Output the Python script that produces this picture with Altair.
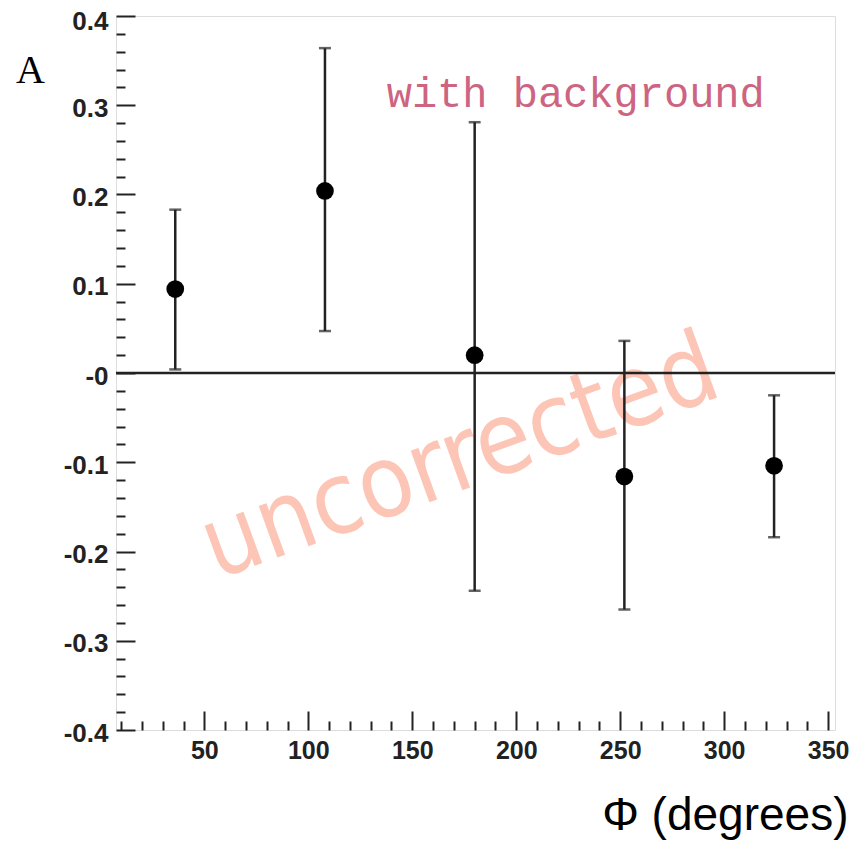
import altair as alt
import pandas as pd

# bin centres (degrees), asymmetry A and error-bar ends
phi = [36, 108, 180, 252, 324]
asym = [0.094, 0.204, 0.020, -0.116, -0.104]
err_lo = [0.004, 0.047, -0.244, -0.265, -0.184]
err_hi = [0.183, 0.364, 0.281, 0.036, -0.025]

x_major = [50, 100, 150, 200, 250, 300, 350]
x_minor = [v for v in range(10, 351, 10) if v not in x_major]
y_major = [-0.4, -0.3, -0.2, -0.1, 0.0, 0.1, 0.2, 0.3, 0.4]
y_minor = [round(-0.4 + 0.02 * i, 2) for i in range(41) if i % 5]

W, H = 719, 714
ink = "#222222"

source = pd.DataFrame({"phi": phi, "A": asym, "lo": err_lo, "hi": err_hi})
base = alt.Chart(source)

x_scale = alt.Scale(domain=[7.5, 353.3], nice=False, zero=False)
y_scale = alt.Scale(domain=[-0.4, 0.4], nice=False, zero=False)

y_label = ("datum.value == 0 ? '-0' : (datum.value < 0 ? '-' + format(-datum.value, '.1f')"
           " : format(datum.value, '.1f'))")
y_label_style = dict(labelFont="Liberation Sans", labelFontSize=26, labelFontWeight="bold",
                     labelColor=ink, labelPadding=8, labelOverlap=False, labelExpr=y_label,
                     ticks=False, domain=False, grid=False)

# points carry the labelled axes (no ticks, the ticks are drawn inward below)
points = base.mark_circle(size=314, color="black", opacity=1).encode(
    x=alt.X("phi:Q", scale=x_scale, axis=alt.Axis(
        orient="bottom", values=x_major, ticks=False, domain=False, grid=False,
        labelFont="Liberation Sans", labelFontSize=25, labelFontWeight="bold",
        labelColor=ink, labelPadding=8, labelFlush=False, labelOverlap=False,
        title="Φ (degrees)", titleFont="Liberation Sans", titleFontSize=46,
        titleFontWeight="normal", titleColor="black", titleX=732, titleY=99,
        titleAlign="right", titleBaseline="alphabetic")),
    y=alt.Y("A:Q", scale=y_scale, axis=alt.Axis(
        orient="left", values=y_major[:-1], labelOffset=3, **y_label_style,
        title="A", titleFont="Liberation Serif", titleFontSize=40,
        titleFontWeight="normal", titleColor="black", titleAngle=0,
        titleX=-86, titleY=54, titleAlign="center", titleBaseline="middle")),
)

# the top label sits a little lower so it stays inside the page
top_label = base.mark_point(opacity=0).encode(
    x=alt.X("phi:Q", scale=x_scale, axis=None),
    y=alt.Y("A:Q", scale=y_scale, axis=alt.Axis(
        orient="left", values=y_major[-1:], labelOffset=5, title=None, **y_label_style)),
)


def inward_ticks(xv, yv, size):
    # top/right axes pulled back onto the bottom/left edges so ticks point inside
    return base.mark_point(opacity=0).encode(
        x=alt.X("phi:Q", scale=x_scale, axis=alt.Axis(
            orient="top", offset=-H, values=xv, tickSize=size, tickWidth=2,
            tickColor=ink, labels=False, domain=False, grid=False, title=None)),
        y=alt.Y("A:Q", scale=y_scale, axis=alt.Axis(
            orient="right", offset=-W, values=yv, tickSize=size, tickWidth=2,
            tickColor=ink, labels=False, domain=False, grid=False, title=None)),
    )


major_ticks = inward_ticks(x_major, y_major, 19)
minor_ticks = inward_ticks(x_minor, y_minor, 9)

bars = base.mark_rule(color=ink, strokeWidth=2.5).encode(
    x=alt.X("phi:Q", scale=x_scale, axis=None),
    y=alt.Y("lo:Q", scale=y_scale, axis=None),
    y2="hi:Q",
)
cap_lo = base.mark_tick(color=ink, thickness=2.5, size=12, orient="horizontal").encode(
    x=alt.X("phi:Q", scale=x_scale, axis=None),
    y=alt.Y("lo:Q", scale=y_scale, axis=None),
)
cap_hi = base.mark_tick(color=ink, thickness=2.5, size=12, orient="horizontal").encode(
    x=alt.X("phi:Q", scale=x_scale, axis=None),
    y=alt.Y("hi:Q", scale=y_scale, axis=None),
)

zero_line = alt.Chart(pd.DataFrame({"y": [0.0]})).mark_rule(color=ink, strokeWidth=2.5).encode(
    y=alt.Y("y:Q", scale=y_scale, axis=None)
)

notes = pd.DataFrame({"t": ["with background"]})
with_bkg = alt.Chart(notes).mark_text(
    font="Liberation Mono", fontSize=42, color="#cd6482", align="center", baseline="middle"
).encode(
    x=alt.X(datum=228.6, scale=x_scale, axis=None),
    y=alt.Y(datum=0.313, scale=y_scale, axis=None),
    text="t:N",
)

stamp = alt.Chart(pd.DataFrame({"t": ["uncorrected"]})).mark_text(
    font="DejaVu Sans Condensed", fontSize=100,
    color="#fcc5b6", align="center", baseline="alphabetic", angle=340
).encode(
    x=alt.X(datum=178.0, scale=x_scale, axis=None),
    y=alt.Y(datum=-0.128, scale=y_scale, axis=None),
    text="t:N",
)

chart = alt.layer(
    stamp, zero_line, bars, cap_lo, cap_hi, points, top_label, major_ticks, minor_ticks,
    with_bkg
).resolve_axis(
    x="independent", y="independent"
).properties(
    width=W, height=H,
    autosize=alt.AutoSizeParams(type="none"),
    padding={"left": 108, "top": 8, "right": 15, "bottom": 113},
).configure_view(
    stroke=ink, strokeWidth=2
).configure(background="white")

chart.save("out.html", embed_options={"renderer": "svg", "actions": False})
